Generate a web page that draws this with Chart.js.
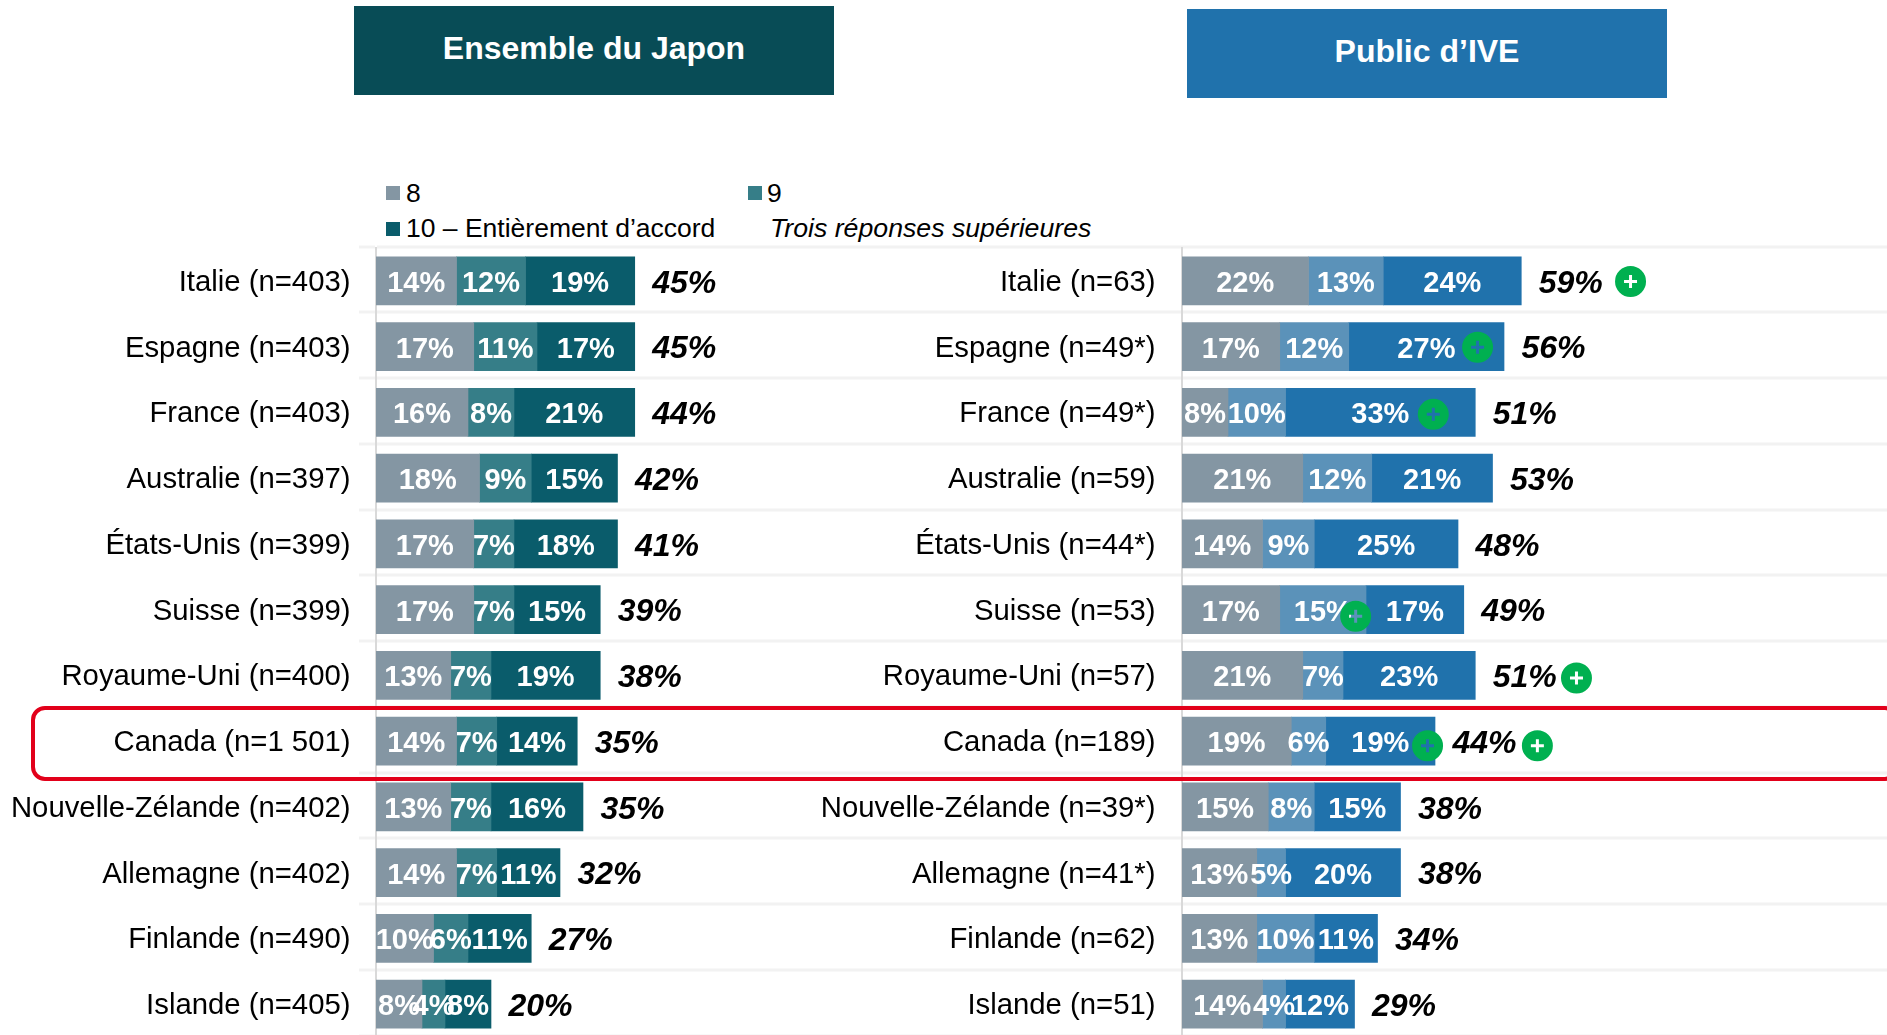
<!DOCTYPE html>
<html lang="fr">
<head>
<meta charset="utf-8">
<title>Ensemble du Japon / Public d’IVE</title>
<script src="https://cdn.jsdelivr.net/npm/chart.js@4/dist/chart.umd.min.js"></script>
<style>
html,body{margin:0;padding:0;background:#fff;overflow:hidden;width:1887px;height:1035px;font-family:"Liberation Sans",Arial,sans-serif;}
canvas{position:absolute;top:0;}
#c1{left:0;} #c2{left:800px;}
.hdr{position:absolute;width:480px;height:89px;color:#fff;font-weight:bold;font-size:32px;text-align:center;line-height:84px;}
#h1{left:354px;top:6px;background:#084c56;}
#h2{left:1187px;top:9px;background:#2072ac;}
.lg{position:absolute;font-size:26.5px;line-height:30px;color:#000;white-space:nowrap;}
.sw{position:absolute;width:14px;height:14px;}
#frame{position:absolute;left:31px;top:706px;width:1860px;height:67px;border:4px solid #e2001a;border-radius:14px;box-sizing:content-box;}
</style>
</head>
<body>
<div class="hdr" id="h1"></div>
<div class="hdr" id="h2"></div>
<div id="legend"></div>
<canvas id="c1" width="1887" height="1040"></canvas>
<canvas id="c2" width="1087" height="1040"></canvas>
<div id="frame"></div>
<script>
const panelTitles = ["Ensemble du Japon", "Public d’IVE"];
const seriesNames = ["8", "9", "10 – Entièrement d’accord"];
const totalName = "Trois réponses supérieures";

const labelsJapon = ["Italie (n=403)","Espagne (n=403)","France (n=403)","Australie (n=397)","États-Unis (n=399)","Suisse (n=399)","Royaume-Uni (n=400)","Canada (n=1 501)","Nouvelle-Zélande (n=402)","Allemagne (n=402)","Finlande (n=490)","Islande (n=405)"];
const japon8  = [14,17,16,18,17,17,13,14,13,14,10,8];
const japon9  = [12,11,8,9,7,7,7,7,7,7,6,4];
const japon10 = [19,17,21,15,18,15,19,14,16,11,11,8];
const japonTop = [45,45,44,42,41,39,38,35,35,32,27,20];

const labelsIve = ["Italie (n=63)","Espagne (n=49*)","France (n=49*)","Australie (n=59)","États-Unis (n=44*)","Suisse (n=53)","Royaume-Uni (n=57)","Canada (n=189)","Nouvelle-Zélande (n=39*)","Allemagne (n=41*)","Finlande (n=62)","Islande (n=51)"];
const ive8  = [22,17,8,21,14,17,21,19,15,13,13,14];
const ive9  = [13,12,10,12,9,15,7,6,8,5,10,4];
const ive10 = [24,27,33,21,25,17,23,19,15,20,11,12];
const iveTop = [59,56,51,53,48,49,51,44,38,38,34,29];

// Significance markers: position in the value and category units of the panel
const plusValues = [78,51.4,43.7,30.2,68.6,42.7,61.8];
const plusRows   = [0.01,1.01,2.03,5.1,6.04,7.07,7.07];

const coloursJapon = ["#8496a3","#367e88","#0a5c6b"];
const coloursIve   = ["#8496a3","#5b92b9","#2072ac"];

const FONT = '"Liberation Sans", Arial, sans-serif';

document.getElementById('h1').textContent = panelTitles[0];
document.getElementById('h2').textContent = panelTitles[1];

// Legend
const legend = document.getElementById('legend');
[[386,186,406,178,0],[748,186,767,178,1],[386,222,406,213,2]].forEach(p=>{
  const s=document.createElement('div');s.className='sw';s.style.left=p[0]+'px';s.style.top=p[1]+'px';s.style.background=coloursJapon[p[4]];legend.appendChild(s);
  const t=document.createElement('div');t.className='lg';t.style.left=p[2]+'px';t.style.top=p[3]+'px';t.textContent=seriesNames[p[4]];legend.appendChild(t);
});
const ti=document.createElement('div');ti.className='lg';ti.style.left='770px';ti.style.top='213px';ti.style.fontStyle='italic';ti.style.fontSize='26.7px';ti.textContent=totalName;legend.appendChild(ti);

const overlay = {
  id:'overlay',
  afterDatasetsDraw(chart, args, opts){
    const {ctx, scales:{x,y}} = chart;
    ctx.save();
    ctx.textBaseline='middle';
    // value labels in each segment
    ctx.textAlign='center';
    ctx.fillStyle='#fff';
    ctx.font='bold 29px '+FONT;
    chart.data.datasets.forEach((ds,d)=>{
      chart.getDatasetMeta(d).data.forEach((bar,i)=>{
        ctx.fillText(ds.data[i]+'%', (bar.x+bar.base)/2, bar.y+3);
      });
    });
    // totals
    ctx.textAlign='left';
    ctx.fillStyle='#000';
    ctx.font='italic bold 32px '+FONT;
    const last = chart.getDatasetMeta(chart.data.datasets.length-1).data;
    opts.totals.forEach((v,i)=>{
      ctx.fillText(v+'%', last[i].x+17.5, last[i].y+3);
    });
    // plus markers: the cross is a hole through the green disc
    (opts.plusValues||[]).forEach((v,i)=>{
      const cx=x.getPixelForValue(v), cy=y.getPixelForValue(opts.plusRows[i]);
      const a=6.5,b=1.5;
      ctx.beginPath();
      ctx.arc(cx,cy,15.5,0,Math.PI*2);
      ctx.moveTo(cx-b,cy-a);ctx.lineTo(cx+b,cy-a);ctx.lineTo(cx+b,cy-b);ctx.lineTo(cx+a,cy-b);ctx.lineTo(cx+a,cy+b);ctx.lineTo(cx+b,cy+b);
      ctx.lineTo(cx+b,cy+a);ctx.lineTo(cx-b,cy+a);ctx.lineTo(cx-b,cy+b);ctx.lineTo(cx-a,cy+b);ctx.lineTo(cx-a,cy-b);ctx.lineTo(cx-b,cy-b);ctx.closePath();
      ctx.fillStyle='#00b050';
      ctx.fill('evenodd');
    });
    ctx.restore();
  }
};

// Small vertical nudges of the axis labels and separators relative to the bars
function nudgeAxis(s){
  if(s._nudged) return;
  s._nudged=true;
  const labelItems=s._computeLabelItems, gridItems=s._computeGridLineItems;
  s._computeLabelItems=function(ca){
    const items=labelItems.call(this,ca);
    items.forEach(it=>{const t=it.options.translation;it.options.translation=[t[0],t[1]+2];});
    return items;
  };
  s._computeGridLineItems=function(ca){
    const items=gridItems.call(this,ca);
    items.forEach(it=>{it.y1-=1.5;it.y2-=1.5;it.ty1-=1.5;it.ty2-=1.5;});
    return items;
  };
}

function panel(id, labels, a, b, c, colours, cfg){
  return new Chart(document.getElementById(id),{
    type:'bar',
    plugins:[overlay],
    data:{labels,datasets:[a,b,c].map((data,i)=>({label:seriesNames[i],data,backgroundColor:colours[i],barThickness:48,borderWidth:0}))},
    options:{
      indexAxis:'y',responsive:false,animation:false,
      layout:{autoPadding:false,padding:{top:248,bottom:3,left:0,right:0}},
      scales:{
        x:{stacked:true,display:false,min:0,max:cfg.max},
        y:{stacked:true,
           afterFit(s){s.width=cfg.axisWidth;s.paddingTop=0;s.paddingBottom=0;nudgeAxis(s);},
           grid:cfg.grid,
           border:{display:true,color:'#d9d9d9',width:2},
           ticks:{color:'#000',padding:cfg.padding,font:{family:FONT,size:29.3}}}
      },
      plugins:{legend:{display:false},tooltip:{enabled:false},
        overlay:{totals:cfg.totals,plusValues:cfg.plusValues,plusRows:cfg.plusRows}}
    }
  });
}

panel('c1',labelsJapon,japon8,japon9,japon10,coloursJapon,{
  max:262.8,axisWidth:376,padding:8.5,totals:japonTop,
  grid:{offset:true,color:'#f2f2f2',lineWidth:3,tickLength:17,drawTicks:true}
});
panel('c2',labelsIve,ive8,ive9,ive10,coloursIve,{
  max:122.6,axisWidth:382,padding:26.5,totals:iveTop,plusValues,plusRows,
  grid:{display:false,drawTicks:false}
});
</script>
</body>
</html>
